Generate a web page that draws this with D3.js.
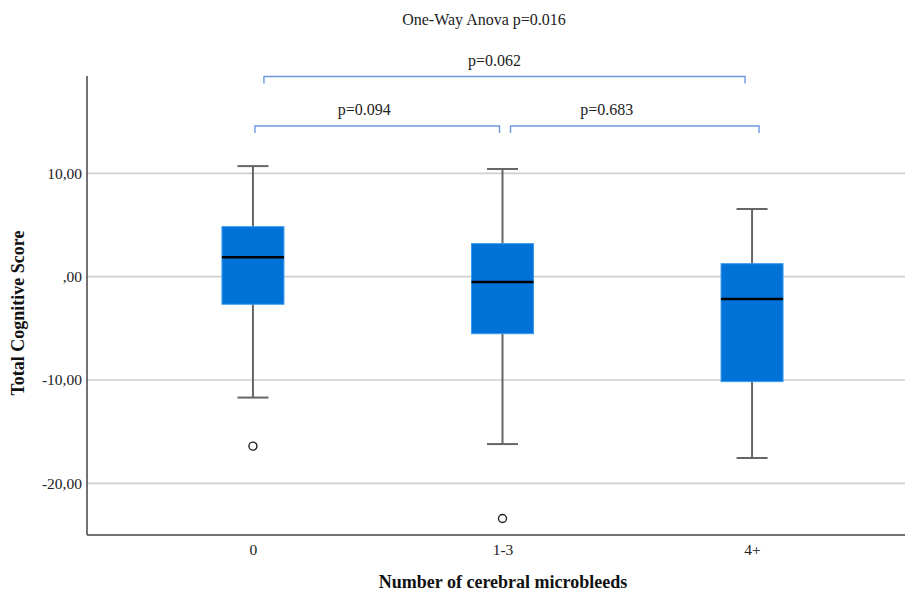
<!DOCTYPE html>
<html><head><meta charset="utf-8">
<script src="https://cdn.jsdelivr.net/npm/d3@7"></script>
<style>body{margin:0;background:#fff}svg{display:block}text{font-family:"Liberation Serif","Times New Roman",serif}</style>
</head><body><svg id="c" width="905" height="591"></svg>
<script>
const categories = ["0", "1-3", "4+"];
const whiskerLow = [-11.7, -16.2, -17.55];
const q1 = [-2.67, -5.52, -10.16];
const median = [1.88, -0.51, -2.16];
const q3 = [4.84, 3.2, 1.26];
const whiskerHigh = [10.7, 10.42, 6.55];
const outliers = [{cat: "0", v: -16.4}, {cat: "1-3", v: -23.4}];
const yTicks = [-20, -10, 0, 10];
const yTickLabels = ["-20,00", "-10,00", ",00", "10,00"];
const comparisons = [
  {a: "0", b: "4+", label: "p=0.062", level: 2},
  {a: "0", b: "1-3", label: "p=0.094", level: 1},
  {a: "1-3", b: "4+", label: "p=0.683", level: 1}
];
const anovaLabel = "One-Way Anova p=0.016";

(function () {
const svg = d3.select("#c");
const pLeft = 87, pRight = 905, pTop = 76, pBottom = 535;
const y = d3.scaleLinear().domain([-25, 19.42]).range([pBottom, pTop]);
const x = d3.scalePoint().domain(categories).range([pLeft, 918]).padding(0.665);

// gridlines
svg.append("g").selectAll("line").data(yTicks).join("line")
  .attr("x1", pLeft).attr("x2", pRight)
  .attr("y1", d => y(d)).attr("y2", d => y(d))
  .attr("stroke", "#cfcfcf").attr("stroke-width", 1.6);

// y axis
const yAxis = d3.axisLeft(y).tickValues(yTicks).tickSize(0).tickPadding(5)
  .tickFormat((d, i) => yTickLabels[i]);
const gy = svg.append("g").attr("transform", `translate(${pLeft},0)`).call(yAxis);
gy.select(".domain").remove();
gy.selectAll("text").attr("font-size", 15.5).attr("fill", "#222")
  .style("font-family", '"Liberation Serif", serif');
svg.append("line").attr("x1", pLeft).attr("x2", pLeft).attr("y1", pTop).attr("y2", pBottom)
  .attr("stroke", "#444").attr("stroke-width", 1.5);

// x axis
const xAxis = d3.axisBottom(x).tickSize(0).tickPadding(9);
const gx = svg.append("g").attr("transform", `translate(0,${pBottom})`).call(xAxis);
gx.select(".domain").remove();
gx.selectAll("text").attr("font-size", 15.5).attr("fill", "#222")
  .style("font-family", '"Liberation Serif", serif');
svg.append("line").attr("x1", pLeft).attr("x2", pRight).attr("y1", pBottom).attr("y2", pBottom)
  .attr("stroke", "#444").attr("stroke-width", 1.5);

// boxes
const boxW = 62, capW = 31;
const data = categories.map((c, i) => ({c, lo: whiskerLow[i], q1: q1[i], med: median[i], q3: q3[i], hi: whiskerHigh[i]}));
const g = svg.append("g");
g.selectAll(".wh").data(data).join("line").attr("class", "wh")
  .attr("x1", d => x(d.c)).attr("x2", d => x(d.c))
  .attr("y1", d => y(d.hi)).attr("y2", d => y(d.lo))
  .attr("stroke", "#666").attr("stroke-width", 2);
["hi", "lo"].forEach(k => {
  g.selectAll(".cap" + k).data(data).join("line").attr("class", "cap" + k)
    .attr("x1", d => x(d.c) - capW / 2).attr("x2", d => x(d.c) + capW / 2)
    .attr("y1", d => y(d[k])).attr("y2", d => y(d[k]))
    .attr("stroke", "#666").attr("stroke-width", 2);
});
g.selectAll("rect").data(data).join("rect")
  .attr("x", d => x(d.c) - boxW / 2).attr("width", boxW)
  .attr("y", d => y(d.q3)).attr("height", d => y(d.q1) - y(d.q3))
  .attr("fill", "#0173d8").attr("stroke", "#3b9af0").attr("stroke-width", 1);
g.selectAll(".med").data(data).join("line").attr("class", "med")
  .attr("x1", d => x(d.c) - boxW / 2).attr("x2", d => x(d.c) + boxW / 2)
  .attr("y1", d => y(d.med)).attr("y2", d => y(d.med))
  .attr("stroke", "#000").attr("stroke-width", 2.5);
g.selectAll("circle").data(outliers).join("circle")
  .attr("cx", d => x(d.cat)).attr("cy", d => y(d.v)).attr("r", 4)
  .attr("fill", "#fff").attr("stroke", "#222").attr("stroke-width", 1.4);

// comparison brackets
const levelY = {1: 126, 2: 76.5};
const endOffset = {"0-1-3": [2, -3], "1-3-4+": [8, 7], "0-4+": [11, -7]};
const labelShift = {"0-1-3": -13, "1-3-4+": -28, "0-4+": -10};
comparisons.forEach(cp => {
  const key = cp.a + "-" + cp.b;
  const x1 = x(cp.a) + endOffset[key][0], x2 = x(cp.b) + endOffset[key][1];
  const yy = levelY[cp.level];
  svg.append("path")
    .attr("d", `M${x1},${yy + 7}V${yy}H${x2}V${yy + 7}`)
    .attr("fill", "none").attr("stroke", "#6d98dd").attr("stroke-width", 1.4);
  svg.append("text").attr("x", (x1 + x2) / 2 + labelShift[key]).attr("y", yy - 11)
    .attr("text-anchor", "middle").attr("font-size", 16).attr("fill", "#222").text(cp.label);
});

svg.append("text").attr("x", 484).attr("y", 25).attr("text-anchor", "middle")
  .attr("font-size", 16).attr("fill", "#222").text(anovaLabel);

svg.append("text").attr("x", 503).attr("y", 588).attr("text-anchor", "middle")
  .attr("font-size", 18).attr("font-weight", "bold").attr("fill", "#111")
  .text("Number of cerebral microbleeds");
svg.append("text").attr("transform", "translate(24,313) rotate(-90)")
  .attr("text-anchor", "middle").attr("font-size", 18).attr("font-weight", "bold")
  .attr("fill", "#111").text("Total Cognitive Score");
})();
</script></body></html>
